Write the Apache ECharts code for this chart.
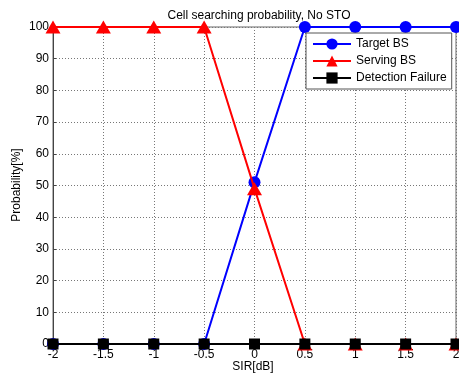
<!DOCTYPE html>
<html><head><meta charset="utf-8">
<script src="https://cdn.jsdelivr.net/npm/echarts@6/dist/echarts.min.js"></script>
<style>html,body{margin:0;padding:0;background:#fff}#c{width:459px;height:377px}</style>
</head><body><div id="c"></div>
<script>
const sir = [-2, -1.5, -1, -0.5, 0, 0.5, 1, 1.5, 2];
const targetBS = [0, 0, 0, 0, 51, 100, 100, 100, 100];
const servingBS = [100, 100, 100, 100, 49, 0, 0, 0, 0];
const detectionFailure = [0, 0, 0, 0, 0, 0, 0, 0, 0];
const xTitle = 'SIR[dB]';
const yTitle = 'Probability[%]';
const pairs = v => sir.map((x, i) => [x, v[i]]);
const font = 'Liberation Sans, Arial, Helvetica, sans-serif';
const chart = echarts.init(document.getElementById('c'));
chart.setOption({
  animation: false,
  title: { text: 'Cell searching probability, No STO', left: 254, top: 5, textAlign: 'center',
    textStyle: { fontFamily: font, fontSize: 12, fontWeight: 'normal', color: '#000' } },
  grid: { left: 53, right: 3, top: 27, bottom: 33, show: true, borderColor: '#666', borderWidth: 1,
    containLabel: false, outerBoundsMode: 'none' },
  graphic: [
    { type: 'text', x: 253, y: 367, style: { text: xTitle, font: '12px ' + font, fill: '#000', align: 'center', verticalAlign: 'middle' } },
    { type: 'text', x: 17, y: 185, rotation: Math.PI / 2, style: { text: yTitle, font: '12px ' + font, fill: '#000', align: 'center', verticalAlign: 'middle' } }
  ],
  xAxis: { type: 'value', min: -2, max: 2, interval: 0.5,
    axisLine: { show: true, onZero: false, lineStyle: { color: '#444' } },
    axisTick: { show: false },
    axisLabel: { fontFamily: font, fontSize: 12, color: '#000', margin: 5 },
    splitLine: { show: true, lineStyle: { type: [1, 2], color: '#777' } } },
  yAxis: { type: 'value', min: 0, max: 100, interval: 10,
    axisLine: { show: true, onZero: false, lineStyle: { color: '#444' } },
    axisTick: { show: true, inside: true, length: 3, lineStyle: { color: '#444' } },
    axisLabel: { fontFamily: font, fontSize: 12, color: '#000', margin: 4 },
    splitLine: { show: true, lineStyle: { type: [1, 2], color: '#777' } } },
  legend: { left: 306, top: 33, orient: 'vertical', itemWidth: 38, itemHeight: 14, itemGap: 5,
    padding: [5, 5, 5, 6], borderColor: '#555', borderWidth: 1, backgroundColor: '#fff',
    textStyle: { fontFamily: font, fontSize: 12, color: '#000' },
    data: ['Target BS', 'Serving BS', 'Detection Failure'] },
  series: [
    { name: 'Target BS', type: 'line', data: pairs(targetBS), clip: false, symbol: 'circle', symbolSize: 12,
      color: '#0000ff', lineStyle: { width: 2, color: '#0000ff' }, itemStyle: { color: '#0000ff' }, z: 2 },
    { name: 'Serving BS', type: 'line', data: pairs(servingBS), clip: false, symbol: 'triangle', symbolSize: [15, 13],
      color: '#ff0000', lineStyle: { width: 2, color: '#ff0000' }, itemStyle: { color: '#ff0000' }, z: 3 },
    { name: 'Detection Failure', type: 'line', data: pairs(detectionFailure), clip: false, symbol: 'rect', symbolSize: 11,
      color: '#000', lineStyle: { width: 2, color: '#000' }, itemStyle: { color: '#000' }, z: 4 }
  ]
});
</script></body></html>
